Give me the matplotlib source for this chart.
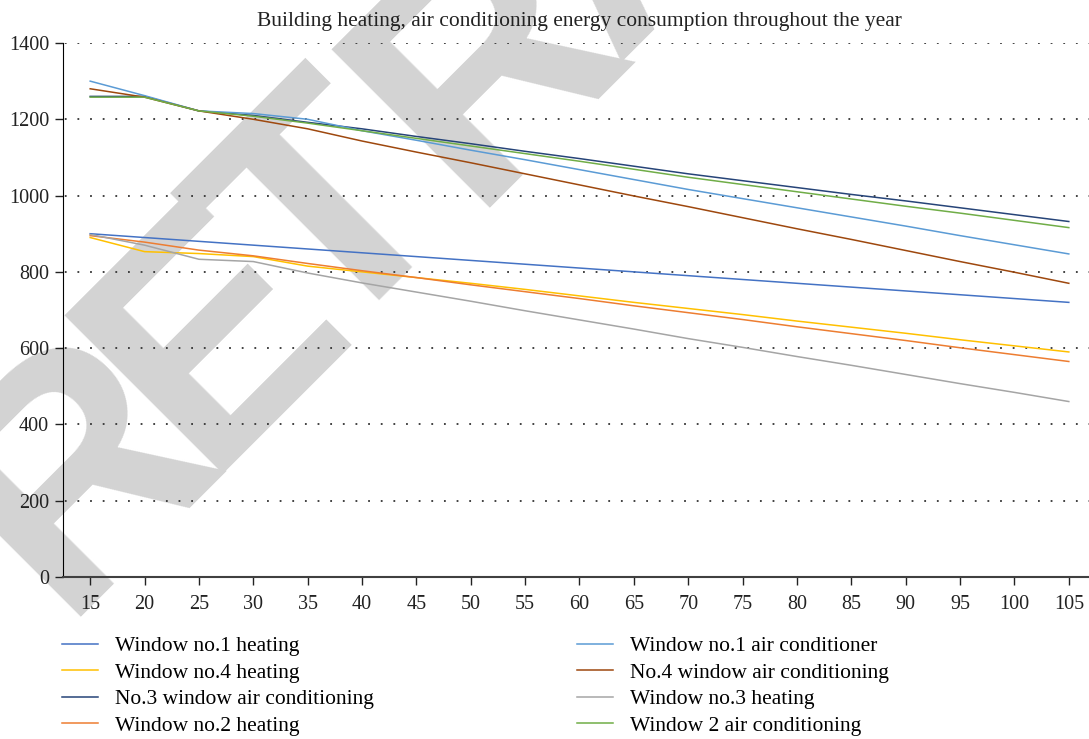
import matplotlib
matplotlib.use("Agg")
import matplotlib.pyplot as plt
from matplotlib.lines import Line2D

# window depth categories on the x axis
depths = [15, 20, 25, 30, 35, 40, 45, 50, 55, 60, 65, 70, 75, 80, 85, 90, 95, 100, 105]

heat_w1 = [900, 890, 880, 870, 860, 850, 840, 830, 820, 810, 800, 790, 780, 770, 760, 750, 740, 730, 720]
heat_w4 = [890, 853, 848, 840, 815, 800, 785, 770, 754, 737, 720, 704, 688, 671, 655, 639, 622, 606, 590]
ac_w3 = [1260, 1260, 1222, 1210, 1192, 1175, 1155, 1136, 1116, 1097, 1077, 1057, 1039, 1021, 1003, 986, 968, 950, 932]
heat_w2 = [895, 878, 857, 842, 822, 803, 785, 766, 748, 730, 711, 693, 675, 656, 638, 620, 601, 583, 565]
ac_w1 = [1300, 1262, 1222, 1215, 1200, 1170, 1145, 1119, 1094, 1068, 1042, 1016, 992, 968, 944, 920, 895, 871, 847]
ac_w4 = [1280, 1258, 1222, 1200, 1175, 1143, 1114, 1086, 1057, 1028, 999, 971, 942, 913, 885, 856, 827, 799, 770]
heat_w3 = [898, 870, 833, 827, 797, 771, 747, 723, 698, 674, 650, 625, 602, 578, 555, 531, 507, 484, 460]
ac_w2 = [1258, 1258, 1222, 1208, 1190, 1170, 1150, 1130, 1110, 1090, 1069, 1048, 1029, 1010, 991, 972, 954, 935, 916]

left_names = ["Window no.1 heating", "Window no.4 heating",
              "No.3 window air conditioning", "Window no.2 heating"]
right_names = ["Window no.1 air conditioner", "No.4 window air conditioning",
               "Window no.3 heating", "Window 2 air conditioning"]
left_series = [heat_w1, heat_w4, ac_w3, heat_w2]
right_series = [ac_w1, ac_w4, heat_w3, ac_w2]
left_colors = ["#4472C4", "#FFC000", "#264478", "#ED7D31"]
right_colors = ["#5B9BD5", "#9E480E", "#A5A5A5", "#70AD47"]

stamp = "RETRACTED"

plt.rcParams["font.family"] = ["Liberation Serif", "DejaVu Serif"]
plt.rcParams["font.size"] = 14.5

fig = plt.figure(figsize=(10.89, 7.39), dpi=100)
W, H = 1089, 739
ax = fig.add_axes([63 / W, (H - 577) / H, (1096 - 63) / W, 534 / H])
ax.set_facecolor("none")

# grey stamp behind the plot, one letter at a time along a 45 degree baseline
# (positions are left ink edges, given as x - y in pixels, baseline x + y = 694)
edges = [-520, -235, 11, 298, 590, 880, 1150, 1390, 1650]
for ch, e in zip(stamp, edges):
    px = (694 + e) / 2 - 28
    py = (694 - e) / 2 + 10
    fig.text(px / W, (H - py) / H, ch, fontsize=234, fontweight="bold",
             family=["Liberation Sans Narrow", "Liberation Sans"], color="#D3D3D3",
             rotation=45, rotation_mode="anchor", ha="left", va="baseline", zorder=-1)

x = list(range(len(depths)))
for vals, c in zip(left_series + right_series, left_colors + right_colors):
    ax.plot(x, vals, color=c, lw=1.1)

ax.set_xlim(-0.5, 18.5)
ax.set_ylim(0, 1400)
ax.set_xticks(x)
ax.set_xticklabels([str(d) for d in depths])
ax.set_yticks(range(0, 1401, 200))
ax.yaxis.grid(True, linestyle=(6, (1, 6)), color="#333333", lw=1.3)
ax.set_axisbelow(True)
for s in ["top", "right"]:
    ax.spines[s].set_visible(False)
ax.spines["left"].set_color("#000000")
ax.spines["bottom"].set_color("#404040")
ax.spines["bottom"].set_linewidth(1.5)
ax.tick_params(axis="both", direction="out", length=6, width=1, colors="#222222", pad=4)
ax.tick_params(axis="x", pad=7)

ax.set_title("Building heating, air conditioning energy consumption throughout the year",
             fontsize=15.5, pad=12, color="#222222")

def make_legend(names, colors, x0):
    handles = [Line2D([], [], color=c, lw=1.1) for c in colors]
    return fig.legend(handles, names, loc="upper left", bbox_to_anchor=(x0 / W, (H - 636) / H),
                      frameon=False, handlelength=1.67, handletextpad=0.8,
                      labelspacing=0.3, borderpad=0, borderaxespad=0, fontsize=15.5)

make_legend(left_names, left_colors, 62)
make_legend(right_names, right_colors, 577)

fig.savefig("out.png", dpi=100)
